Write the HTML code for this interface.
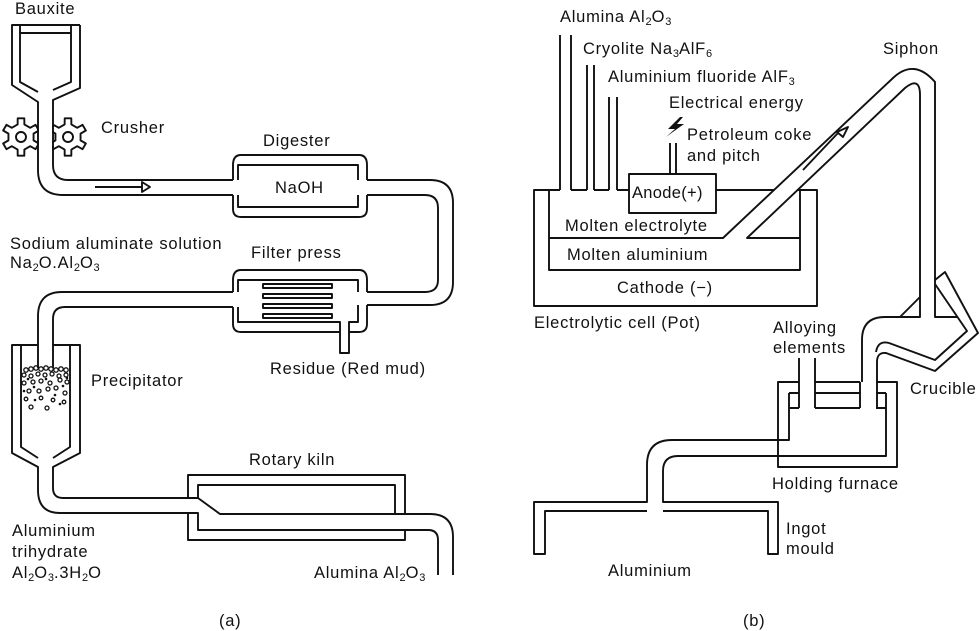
<!DOCTYPE html>
<html><head><meta charset="utf-8"><style>
html,body{margin:0;padding:0;background:#fff;}
svg{display:block;}
text{font-family:"Liberation Sans",sans-serif;font-size:16.5px;letter-spacing:0.75px;fill:#111;}
.s{font-size:11px;letter-spacing:0;}
</style></head><body>
<svg width="980" height="631" viewBox="0 0 980 631" xmlns="http://www.w3.org/2000/svg">
<g fill="none" stroke="#111" stroke-width="1.9" stroke-linejoin="round">
<!-- gears -->
<g fill="#fff">
<polygon transform="translate(21,137)" points="12.56,3.37 17.85,6.5 14.55,12.21 9.19,9.19 3.37,12.56 3.3,18.71 -3.3,18.71 -3.37,12.56 -9.19,9.19 -14.55,12.21 -17.85,6.5 -12.56,3.37 -12.56,-3.37 -17.85,-6.5 -14.55,-12.21 -9.19,-9.19 -3.37,-12.56 -3.3,-18.71 3.3,-18.71 3.37,-12.56 9.19,-9.19 14.55,-12.21 17.85,-6.5 12.56,-3.37"/>
<polygon transform="translate(68,137)" points="12.56,3.37 17.85,6.5 14.55,12.21 9.19,9.19 3.37,12.56 3.3,18.71 -3.3,18.71 -3.37,12.56 -9.19,9.19 -14.55,12.21 -17.85,6.5 -12.56,3.37 -12.56,-3.37 -17.85,-6.5 -14.55,-12.21 -9.19,-9.19 -3.37,-12.56 -3.3,-18.71 3.3,-18.71 3.37,-12.56 9.19,-9.19 14.55,-12.21 17.85,-6.5 12.56,-3.37"/>
<circle cx="21" cy="137" r="5"/><circle cx="68" cy="137" r="5"/>
</g>
<rect x="39" y="100" width="13" height="70" fill="#fff" stroke="none"/>
<!-- hopper + pipe -->
<path d="M80,25 H12 V85 L38,102 V170 Q38,195 63,195 H233"/>
<path d="M80,25 V88 L53,100 V165 Q53,180 68,180 H233"/>
<path d="M20,25 V82 L38,92 M71,25 V82 L53,90 M20,33 H71"/>
<path d="M95,187 H142"/><path d="M142,182 L150,187 L142,192 Z"/>
<!-- digester -->
<path d="M233,180 V165 Q233,155 241,155 H359 Q367,155 367,165 V180 M233,195 V209 Q233,217 241,217 H359 Q367,217 367,209 V195"/>
<path d="M238,180 V165 H358 V180 M238,195 V207 H358 V195"/>
<path d="M367,180 H430 Q453,180 453,203 V282 Q453,305 430,305 H367"/>
<path d="M367,195 H425 Q438,195 438,208 V280 Q438,292 425,292 H367"/>
<!-- filter press -->
<path d="M233,292 V280 Q233,270 241,270 H359 Q367,270 367,280 V292 M233,307 V324 Q233,332 241,332 H340 M349,332 H359 Q367,332 367,324 V305"/>
<path d="M238,292 V280 H358 V292 M238,307 V322 H340 V353 H349 V322 H358 V305"/>
<rect x="263" y="284" width="69" height="4"/><rect x="263" y="294" width="69" height="4"/><rect x="263" y="304" width="69" height="4"/><rect x="263" y="314" width="69" height="4"/>
<path d="M233,292 H62 Q38,292 38,316 V368"/>
<path d="M233,307 H65 Q53,307 53,319 V368"/>
<!-- precipitator -->
<path d="M38,345 H12 V453 L38,467 V490 Q38,513 60,513 H188"/>
<path d="M53,345 H80 V453 L53,467 V488 Q53,498 63,498 H188"/>
<path d="M21,345 V447 L38,458 M70,345 V447 L53,458"/>
<!-- kiln -->
<path d="M188,498 V475 H405 V514 M405,530 V540 H188 V513"/>
<path d="M198,498 V485 H395 V514"/>
<path d="M188,498 H198 L220,514 H430 Q453,514 453,537 V575"/>
<path d="M188,513 H198 V530 H428 Q438,530 438,540 V575"/>
</g>
<g fill="none" stroke="#111" stroke-width="1.3">
<circle cx="26" cy="370" r="2.2"/><circle cx="31" cy="369" r="2.2"/><circle cx="36" cy="368" r="2.2"/><circle cx="41" cy="369" r="2.2"/><circle cx="46" cy="368" r="2.2"/><circle cx="51" cy="369" r="2.2"/><circle cx="56" cy="370" r="2.2"/><circle cx="61" cy="369" r="2.2"/><circle cx="66" cy="370" r="2.2"/>
<circle cx="24" cy="375" r="2"/><circle cx="31" cy="376" r="2"/><circle cx="38" cy="374" r="2"/><circle cx="45" cy="375" r="2"/><circle cx="52" cy="374" r="2"/><circle cx="59" cy="376" r="2"/><circle cx="66" cy="375" r="2"/>
<circle cx="24" cy="383" r="2"/><circle cx="33" cy="382" r="2"/><circle cx="41" cy="381" r="2"/><circle cx="50" cy="383" r="2"/><circle cx="60" cy="380" r="2"/><circle cx="67" cy="382" r="2"/>
<circle cx="29" cy="391" r="2"/><circle cx="39" cy="391" r="2"/><circle cx="48" cy="389" r="2"/><circle cx="56" cy="388" r="2"/><circle cx="65" cy="393" r="2"/>
<circle cx="26" cy="399" r="1.8"/><circle cx="41" cy="398" r="1.8"/><circle cx="53" cy="400" r="1.8"/><circle cx="64" cy="402" r="1.8"/>
<circle cx="31" cy="407" r="2"/><circle cx="47" cy="408" r="2"/>
</g>
<g fill="#111">
<circle cx="28" cy="379" r="1.3"/><circle cx="46" cy="379" r="1.3"/><circle cx="63" cy="386" r="1.3"/><circle cx="24" cy="391" r="1.3"/><circle cx="34" cy="387" r="1.3"/><circle cx="55" cy="395" r="1.3"/><circle cx="35" cy="400" r="1.3"/><circle cx="67" cy="378" r="1.3"/><circle cx="60" cy="404" r="1.3"/>
</g>

<!-- (b) -->
<g fill="none" stroke="#111" stroke-width="1.9" stroke-linejoin="round">
<path d="M560,35 V190 M571,35 V190 M587,65 V190 M594,65 V190 M609,97 V190 M617,97 V190 M670,143 V174 M676,143 V174"/>
<path d="M560,190 H534 V306 H817 V190 H797 M571,190 H587 M594,190 H609 M617,190 H629 M716,190 H774"/>
<rect x="629" y="174" width="87" height="39" fill="#fff"/>
<path d="M549,190 V270 H800 V190"/>
<path d="M549,238 H723 L893,78 Q914,58 935,82 V317 H958"/>
<path d="M800,238 H747 L905,88 Q920,76 920,95 V317 H900 L920,297"/>
<path d="M803,170 L838,133"/><path d="M837,132 L848,127 L843,137 Z"/>
<!-- crucible -->
<path d="M900,317 H885 Q862,317 862,340 V382"/>
<path d="M935,280 L945,272 L978,333 L935,371 L886,353 Q877,352 877,362 V408"/>
<path d="M935,284 L967,331 L935,360 L889,343 Q878,340 876,352"/>
<!-- holding furnace -->
<path d="M799,382 H778 V467 H897 V382 H876 M815,382 H860 M815,393 H860 M815,408 H860 M860,382 V408"/>
<path d="M799,358 V408 M815,358 V408 M789,393 H799 M789,408 H799 M876,393 H886 M876,408 H886"/>
<path d="M789,393 V440 H672 Q647,440 647,465 V502 H534 V554 H545 V511 H647"/>
<path d="M886,393 V456 H678 Q663,456 663,471 V502 H778 V554 H768 V511 H663"/>
</g>
<path d="M680,117 L668,129 L675,129 L666,137 L684,124 L677,124 L683,117 Z" fill="#111"/>

<!-- labels (a) -->
<text x="15" y="14">Bauxite</text>
<text x="101" y="133">Crusher</text>
<text x="263" y="146">Digester</text>
<text x="275" y="193">NaOH</text>
<text x="10" y="249">Sodium aluminate solution</text>
<text x="10" y="268">Na<tspan class="s" dy="3">2</tspan><tspan dy="-3">O.Al</tspan><tspan class="s" dy="3">2</tspan><tspan dy="-3">O</tspan><tspan class="s" dy="3">3</tspan></text>
<text x="251" y="258">Filter press</text>
<text x="270" y="374">Residue (Red mud)</text>
<text x="91" y="386">Precipitator</text>
<text x="249" y="465">Rotary kiln</text>
<text x="12" y="536">Aluminium</text>
<text x="12" y="557">trihydrate</text>
<text x="12" y="578">Al<tspan class="s" dy="3">2</tspan><tspan dy="-3">O</tspan><tspan class="s" dy="3">3</tspan><tspan dy="-3">.3H</tspan><tspan class="s" dy="3">2</tspan><tspan dy="-3">O</tspan></text>
<text x="314" y="578">Alumina Al<tspan class="s" dy="3">2</tspan><tspan dy="-3">O</tspan><tspan class="s" dy="3">3</tspan></text>
<text x="219" y="626">(a)</text>
<!-- labels (b) -->
<text x="560" y="22">Alumina Al<tspan class="s" dy="3">2</tspan><tspan dy="-3">O</tspan><tspan class="s" dy="3">3</tspan></text>
<text x="583" y="54">Cryolite Na<tspan class="s" dy="3">3</tspan><tspan dy="-3">AlF</tspan><tspan class="s" dy="3">6</tspan></text>
<text x="608" y="82">Aluminium fluoride AlF<tspan class="s" dy="3">3</tspan></text>
<text x="669" y="108">Electrical energy</text>
<text x="687" y="140">Petroleum coke</text>
<text x="687" y="161">and pitch</text>
<text x="632" y="198" style="letter-spacing:0.3px">Anode(+)</text>
<text x="565" y="231">Molten electrolyte</text>
<text x="567" y="260">Molten aluminium</text>
<text x="617" y="293">Cathode (−)</text>
<text x="534" y="328">Electrolytic cell (Pot)</text>
<text x="883" y="54">Siphon</text>
<text x="773" y="333">Alloying</text>
<text x="773" y="353">elements</text>
<text x="910" y="394">Crucible</text>
<text x="772" y="489">Holding furnace</text>
<text x="786" y="534">Ingot</text>
<text x="786" y="554">mould</text>
<text x="608" y="576">Aluminium</text>
<text x="743" y="626">(b)</text>
</svg>
</body></html>
